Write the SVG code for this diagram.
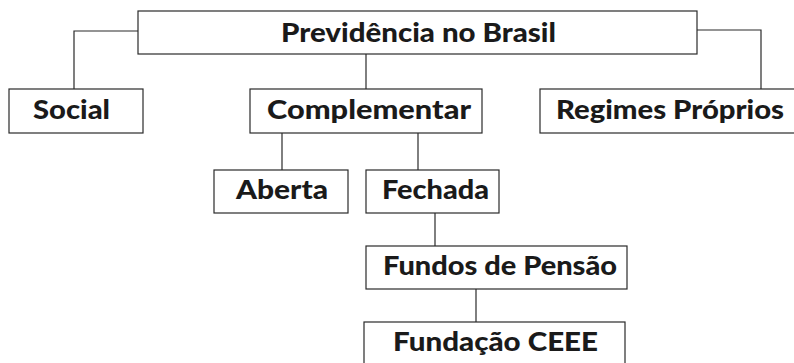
<svg xmlns="http://www.w3.org/2000/svg" width="794" height="363" viewBox="0 0 794 363">
<style>
.box{fill:#fff;stroke:#2a2a2a;stroke-width:1.2}
.lbl{font-family:"Lato","Open Sans","DejaVu Sans",sans-serif;font-weight:900;font-size:27px;fill:#1a1a1a}
.con{fill:none;stroke:#2a2a2a;stroke-width:1.2}
</style>
<rect width="794" height="363" fill="#fff"/>
<g id="connectors">
<polyline class="con" points="138,31 74,31 74,89"/>
<polyline class="con" points="697,30 761,30 761,89"/>
<line class="con" x1="366" y1="54" x2="366" y2="89"/>
<line class="con" x1="282" y1="133" x2="282" y2="170"/>
<line class="con" x1="418" y1="133" x2="418" y2="170"/>
<line class="con" x1="435" y1="213" x2="435" y2="246"/>
<line class="con" x1="476" y1="289" x2="476" y2="322"/>
</g>
<g id="previdencia">
<rect class="box" x="138" y="11" width="559" height="43"/>
<text class="lbl" x="281" y="42" textLength="275" lengthAdjust="spacingAndGlyphs">Previdência no Brasil</text>
</g>
<g id="social">
<rect class="box" x="9" y="89" width="134" height="44"/>
<text class="lbl" x="33" y="119" textLength="77" lengthAdjust="spacingAndGlyphs">Social</text>
</g>
<g id="complementar">
<rect class="box" x="250" y="89" width="232" height="44"/>
<text class="lbl" x="267" y="119" textLength="204" lengthAdjust="spacingAndGlyphs">Complementar</text>
</g>
<g id="regimes">
<rect class="box" x="540" y="89" width="260" height="44"/>
<text class="lbl" x="556" y="119" textLength="228" lengthAdjust="spacingAndGlyphs">Regimes Próprios</text>
</g>
<g id="aberta">
<rect class="box" x="214" y="170" width="134" height="43"/>
<text class="lbl" x="236" y="199" textLength="92" lengthAdjust="spacingAndGlyphs">Aberta</text>
</g>
<g id="fechada">
<rect class="box" x="366" y="170" width="133" height="43"/>
<text class="lbl" x="382" y="199" textLength="107" lengthAdjust="spacingAndGlyphs">Fechada</text>
</g>
<g id="fundos">
<rect class="box" x="366" y="246" width="261" height="43"/>
<text class="lbl" x="383" y="275" textLength="234" lengthAdjust="spacingAndGlyphs">Fundos de Pensão</text>
</g>
<g id="fundacao">
<rect class="box" x="364" y="322" width="261" height="50"/>
<text class="lbl" x="393" y="351" textLength="205" lengthAdjust="spacingAndGlyphs">Fundação CEEE</text>
</g>
</svg>
